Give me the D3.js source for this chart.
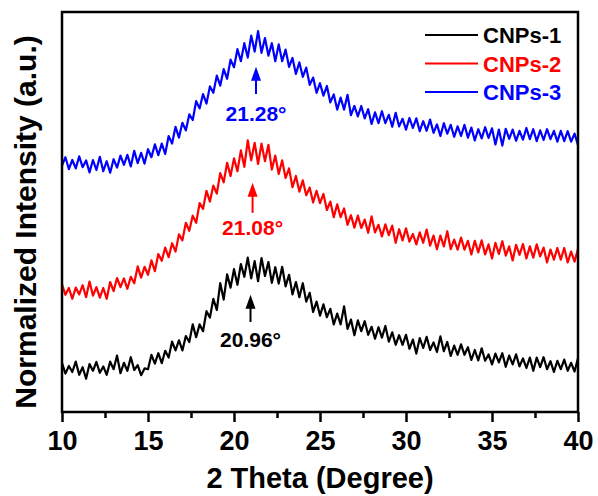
<!DOCTYPE html>
<html>
<head>
<meta charset="utf-8">
<script src="https://cdn.jsdelivr.net/npm/d3@7"></script>
<style>
  body { margin: 0; background: #fff; }
  text { font-family: Arial, "Liberation Sans", sans-serif; font-weight: bold; }
</style>
</head>
<body>
<svg width="598" height="496"></svg>
<script>
// 2 theta sampling, 10 to 40 degree every 0.2
const twoTheta = d3.range(151).map(i => +(10 + i * 0.2).toFixed(1));

// normalized intensity (a.u., curves already stacked)
const cnps1 = [
  12.2, 9.6, 11.5, 10.0, 12.6, 9.3, 11.2, 8.3, 12.0, 10.3,
  12.5, 9.8, 11.4, 9.3, 12.6, 10.7, 14.1, 9.7, 12.3, 10.3,
  13.7, 10.5, 11.7, 9.2, 10.9, 10.7, 14.3, 12.1, 14.7, 12.2,
  15.3, 13.6, 17.6, 15.4, 17.9, 15.4, 19.0, 17.5, 21.9, 18.7,
  21.9, 20.2, 25.2, 23.6, 28.3, 25.5, 32.2, 28.1, 34.4, 31.1,
  35.7, 31.8, 37.0, 33.8, 38.6, 33.4, 37.7, 32.7, 38.5, 34.0,
  37.5, 32.3, 36.2, 32.1, 36.3, 31.4, 34.3, 29.4, 32.5, 28.7,
  32.2, 27.6, 29.8, 25.0, 27.6, 24.1, 26.9, 23.7, 25.8, 21.9,
  24.6, 21.9, 26.4, 20.8, 23.1, 19.2, 22.9, 20.2, 22.7, 19.3,
  21.3, 18.3, 21.2, 18.6, 21.5, 17.6, 19.9, 16.8, 19.2, 16.8,
  19.3, 15.8, 18.1, 14.6, 18.5, 16.0, 18.8, 15.5, 17.4, 15.0,
  18.9, 15.2, 17.5, 14.0, 16.6, 14.3, 16.9, 14.3, 16.2, 13.0,
  15.5, 12.9, 15.9, 12.8, 14.4, 11.9, 14.6, 12.4, 14.7, 11.3,
  14.1, 11.9, 14.4, 11.4, 13.4, 11.0, 13.6, 10.3, 13.6, 11.2,
  13.7, 10.7, 12.7, 10.0, 12.8, 10.7, 13.1, 10.3, 12.3, 10.1,
  13.5
];
const cnps2 = [
  31.9, 29.3, 31.0, 28.3, 31.1, 29.4, 31.7, 28.7, 32.6, 29.1,
  31.2, 28.6, 31.0, 28.3, 32.5, 30.2, 33.5, 31.2, 33.4, 30.8,
  33.8, 32.2, 36.4, 33.6, 36.3, 34.3, 37.9, 35.2, 39.5, 37.8,
  41.1, 38.7, 42.2, 40.1, 44.4, 42.9, 47.3, 45.3, 49.1, 47.3,
  52.2, 50.8, 55.3, 52.6, 56.6, 54.6, 59.7, 57.4, 62.3, 59.0,
  63.4, 60.2, 65.4, 61.3, 67.9, 62.9, 67.3, 62.0, 67.1, 62.7,
  66.8, 60.6, 64.1, 59.5, 62.9, 58.5, 60.9, 56.2, 59.0, 55.1,
  57.9, 54.2, 56.1, 52.4, 55.3, 52.2, 54.5, 50.5, 52.6, 48.7,
  51.9, 48.7, 50.9, 46.8, 49.2, 46.1, 49.1, 46.0, 48.1, 44.8,
  48.9, 44.9, 46.8, 43.9, 46.9, 44.2, 46.6, 42.3, 45.7, 42.9,
  45.9, 42.6, 44.5, 41.9, 44.9, 42.3, 45.6, 41.6, 44.1, 40.7,
  44.1, 41.4, 45.2, 40.7, 43.1, 40.6, 43.6, 40.6, 42.8, 39.4,
  42.8, 39.9, 42.9, 39.4, 41.9, 38.4, 42.3, 39.5, 42.7, 39.1,
  41.4, 37.9, 41.8, 39.3, 42.0, 38.4, 41.4, 38.6, 41.9, 38.9,
  41.1, 37.4, 40.6, 38.1, 41.0, 38.1, 41.0, 37.4, 40.1, 37.6,
  40.8
];
const cnps3 = [
  61.6, 63.7, 60.7, 63.0, 60.9, 63.9, 61.2, 62.9, 59.9, 63.0,
  60.5, 63.8, 60.2, 62.7, 59.8, 63.2, 61.1, 64.1, 61.8, 64.3,
  61.4, 65.3, 62.2, 64.8, 62.1, 65.7, 63.7, 66.9, 64.2, 67.1,
  64.5, 69.0, 67.1, 71.3, 68.6, 72.3, 70.4, 74.4, 73.0, 77.7,
  75.9, 79.5, 77.1, 81.4, 79.8, 84.1, 81.6, 85.7, 83.3, 88.1,
  86.2, 90.7, 87.7, 92.2, 88.6, 94.1, 90.1, 95.2, 89.8, 93.5,
  89.1, 92.2, 87.7, 91.9, 87.7, 90.6, 86.3, 88.5, 84.5, 87.4,
  83.8, 86.1, 81.8, 83.6, 79.8, 82.2, 79.1, 81.5, 77.4, 79.4,
  75.6, 78.6, 75.6, 79.3, 74.2, 76.5, 73.9, 76.5, 73.4, 75.7,
  72.0, 74.9, 72.2, 75.2, 72.2, 74.3, 71.3, 74.8, 71.4, 73.3,
  70.6, 73.5, 71.0, 73.4, 70.2, 72.7, 70.3, 73.1, 69.8, 71.9,
  69.0, 72.2, 69.6, 71.8, 68.8, 71.4, 69.0, 71.8, 68.6, 71.1,
  67.9, 70.7, 68.4, 71.2, 68.5, 70.9, 66.9, 70.6, 66.6, 70.8,
  68.3, 70.6, 67.8, 70.3, 68.1, 71.0, 68.2, 70.7, 67.7, 70.4,
  68.0, 70.7, 68.2, 70.3, 67.6, 70.3, 67.7, 70.2, 67.6, 69.6,
  66.7
];

const names = ["CNPs-1", "CNPs-2", "CNPs-3"];
const colors = ["#000000", "#ff0000", "#0000ff"];

// peak annotations: position, arrow from/to and label height (a.u.)
const peaks = [20.96, 21.08, 21.28];
const arrowFrom = [22.5, 49.8, 79.5];
const arrowTo = [29.3, 57.3, 86.3];
const labelAt = [16.2, 44.2, 72.8];

const majorTicks = [10, 15, 20, 25, 30, 35, 40];
const minorTicks = [12.5, 17.5, 22.5, 27.5, 32.5, 37.5];

const svg = d3.select("svg");
const plotL = 62, plotR = 578, plotT = 12, plotB = 412;

const x = d3.scaleLinear().domain([10, 40]).range([plotL, plotR]);
const y = d3.scaleLinear().domain([0, 100]).range([plotB, plotT]);

svg.append("clipPath").attr("id", "plot")
  .append("rect")
  .attr("x", plotL).attr("y", plotT)
  .attr("width", plotR - plotL).attr("height", plotB - plotT);

// the three patterns
let line = d3.line()
  .x((d, i) => x(twoTheta[i]))
  .y(d => y(d));

[cnps1, cnps2, cnps3].forEach((vals, k) => {
  svg.append("path")
    .datum(vals)
    .attr("clip-path", "url(#plot)")
    .attr("fill", "none")
    .attr("stroke", colors[k])
    .attr("stroke-width", 2.2)
    .attr("stroke-linejoin", "round")
    .attr("d", line);
});

// x axis, major and minor ticks
let xAxis = svg.append("g")
  .attr("transform", `translate(0,${plotB})`)
  .call(d3.axisBottom(x).tickValues(majorTicks).tickSize(10).tickPadding(9).tickFormat(d3.format("d")));
xAxis.select(".domain").remove();
xAxis.selectAll("line").attr("stroke-width", 2.5);
xAxis.selectAll("text")
  .attr("fill", "#000")
  .style("font-size", "27px");

let xMinor = svg.append("g")
  .attr("transform", `translate(0,${plotB})`)
  .call(d3.axisBottom(x).tickValues(minorTicks).tickSize(6).tickFormat(""));
xMinor.select(".domain").remove();
xMinor.selectAll("line").attr("stroke-width", 2.5);

// frame
svg.append("rect")
  .attr("x", plotL).attr("y", plotT)
  .attr("width", plotR - plotL).attr("height", plotB - plotT)
  .attr("fill", "none")
  .attr("stroke", "#000")
  .attr("stroke-width", 2.5);

// arrows + peak labels
peaks.forEach((p, k) => {
  let ax = x(p);
  let y0 = y(arrowFrom[k]), y1 = y(arrowTo[k]);
  svg.append("line")
    .attr("x1", ax).attr("x2", ax)
    .attr("y1", y0).attr("y2", y1 + 10)
    .attr("stroke", colors[k])
    .attr("stroke-width", 2);
  svg.append("path")
    .attr("d", `M${ax},${y1} L${ax - 5},${y1 + 14} L${ax + 5},${y1 + 14} Z`)
    .attr("fill", colors[k]);
  svg.append("text")
    .attr("x", ax)
    .attr("y", y(labelAt[k]))
    .attr("text-anchor", "middle")
    .attr("fill", colors[k])
    .style("font-size", "21px")
    .text(p.toFixed(2) + "°");
});

// legend
names.forEach((n, k) => {
  let ly = 35 + k * 28.5;
  svg.append("line")
    .attr("x1", 425).attr("x2", 478)
    .attr("y1", ly).attr("y2", ly)
    .attr("stroke", colors[k])
    .attr("stroke-width", 2);
  svg.append("text")
    .attr("x", 483).attr("y", ly + 8)
    .attr("fill", colors[k])
    .style("font-size", "22px")
    .text(n);
});

// axis titles
svg.append("text")
  .attr("x", (plotL + plotR) / 2)
  .attr("y", 488)
  .attr("text-anchor", "middle")
  .style("font-size", "29px")
  .text("2 Theta (Degree)");

svg.append("text")
  .attr("transform", "translate(36,222) rotate(-90)")
  .attr("text-anchor", "middle")
  .style("font-size", "30px")
  .text("Normalized Intensity (a.u.)");
</script>
</body>
</html>
